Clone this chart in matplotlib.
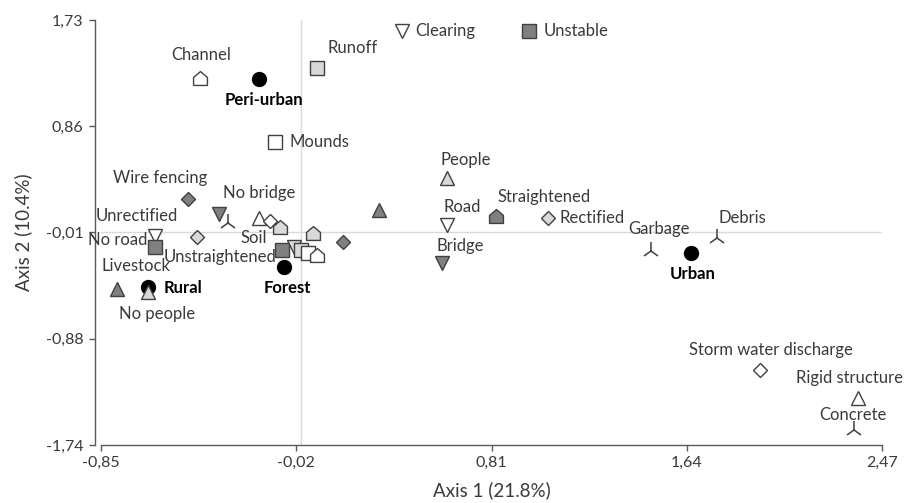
import matplotlib
matplotlib.use("Agg")
import matplotlib.pyplot as plt
from matplotlib.path import Path
import numpy as np

# Ordination scores of sites and attributes on the first two axes
names = [
    "Peri-urban", "Forest", "Rural", "Urban",
    "Channel", "Runoff", "Clearing", "Unstable", "Mounds",
    "People", "Road", "Bridge", "", "Straightened", "Rectified",
    "Garbage", "Debris", "Storm water discharge", "Rigid structure", "Concrete",
    "Wire fencing", "Unrectified", "Soil", "", "No road", "",
    "Livestock", "No people", "No bridge", "", "", "",
    "Unstraightened", "", "", "", "", "",
]
axis1 = [
    -0.18, -0.07, -0.65, 1.66,
    -0.43, 0.07, 0.43, 0.97, -0.11,
    0.62, 0.62, 0.60, 0.33, 0.83, 1.05,
    1.49, 1.77, 1.95, 2.37, 2.35,
    -0.48, -0.35, -0.31, -0.44, -0.62, -0.62,
    -0.78, -0.65, -0.18, -0.13, -0.09, 0.05,
    -0.08, -0.03, 0.00, 0.03, 0.07, 0.18,
]
axis2 = [
    1.25, -0.29, -0.45, -0.17,
    1.26, 1.34, 1.64, 1.64, 0.73,
    0.44, 0.06, -0.25, 0.18, 0.13, 0.11,
    -0.16, -0.05, -1.13, -1.36, -1.62,
    0.27, 0.15, 0.07, -0.04, -0.03, -0.12,
    -0.47, -0.49, 0.11, 0.09, 0.04, -0.01,
    -0.15, -0.12, -0.15, -0.17, -0.19, -0.08,
]
# variable group of each point (shape_fill)
kinds = [
    "site", "site", "site", "site",
    "house_w", "square_l", "down_w", "square_d", "square_w",
    "up_l", "down_w", "down_d", "up_d", "house_d", "diamond_l",
    "tri", "tri", "diamond_w", "up_w", "tri",
    "diamond_d", "down_d", "tri", "diamond_l", "down_w", "square_d",
    "up_d", "up_l", "up_w", "diamond_w", "house_l", "house_l",
    "square_d", "down_l", "square_l", "square_w", "house_w", "diamond_d",
]
bold_labels = {"Peri-urban", "Forest", "Rural", "Urban"}

xticks_lab = ["-0,85", "-0,02", "0,81", "1,64", "2,47"]
yticks_lab = ["-1,74", "-0,88", "-0,01", "0,86", "1,73"]
x_range = (-0.85, 2.47)
y_range = (-1.74, 1.73)

# ---- styling ----
DARK, LIGHT, WHITE, EDGE = "#808080", "#d9d9d9", "#ffffff", "#404040"
house = Path([(-1, -1), (1, -1), (1, 0.15), (0, 1), (-1, 0.15), (-1, -1)],
             [Path.MOVETO, Path.LINETO, Path.LINETO, Path.LINETO, Path.LINETO, Path.CLOSEPOLY])
fills = {"d": DARK, "l": LIGHT, "w": WHITE}
shapes = {"house": (house, 10), "square": ("s", 9.5), "down": ("v", 10),
          "up": ("^", 10), "diamond": ("D", 7.5)}

# label offsets in pixels (dx, dy, horizontal alignment)
label_pos = {
    "Peri-urban": (5, -21, "center"), "Forest": (3, -21, "center"),
    "Rural": (16, -1, "left"), "Urban": (1, -21, "center"),
    "Channel": (1, 23, "center"), "Runoff": (10, 20, "left"),
    "Clearing": (13, 0, "left"), "Unstable": (14, 0, "left"),
    "Mounds": (14, 0, "left"), "People": (19, 18, "center"),
    "Road": (-3, 18, "left"), "Bridge": (-6, 17, "left"),
    "Straightened": (1, 19, "left"), "Rectified": (12, 0, "left"),
    "Garbage": (8, 22, "center"), "Debris": (1, 20, "left"),
    "Storm water discharge": (11, 20, "center"),
    "Rigid structure": (-9, 20, "center"), "Concrete": (-1, 15, "center"),
    "Wire fencing": (-28, 21, "center"), "Unrectified": (-41, -2, "right"),
    "Soil": (12, -15, "left"), "No road": (-8, -4, "right"),
    "Livestock": (18, 23, "center"), "No people": (9, -22, "center"),
    "No bridge": (1, 25, "center"), "Unstraightened": (-6, -7, "right"),
}

plt.rcParams["font.family"] = ["Lato", "DejaVu Sans"]

W, H = 916, 503
fig = plt.figure(figsize=(W / 100, H / 100), dpi=100)
ax = fig.add_axes([101 / W, (H - 445) / H, (882 - 101) / W, (445 - 20) / H])
ax.set_xlim(*x_range)
ax.set_ylim(*y_range)

# light reference lines through the origin
ax.axhline(0, color="#d9d9d9", lw=1, zorder=0)
ax.axvline(0, color="#d9d9d9", lw=1, zorder=0)

for nm, x, y, k in zip(names, axis1, axis2, kinds):
    if k == "site":
        ax.plot(x, y, marker="o", ms=10, color="black", mec="black", ls="none", zorder=3)
    elif k == "tri":
        ax.plot(x, y, marker="2", ms=13, color=EDGE, mew=1.1, ls="none", zorder=4)
    else:
        shp, fl = k.split("_")
        m, ms = shapes[shp]
        ax.plot(x, y, marker=m, ms=ms, mfc=fills[fl], mec=EDGE, mew=1,
                ls="none", zorder=4)
    if nm:
        dx, dy, ha = label_pos[nm]
        bold = nm in bold_labels
        ax.annotate(nm, (x, y), xytext=(dx, dy), textcoords="offset pixels",
                    ha=ha, va="center", fontsize=12,
                    fontweight="bold" if bold else "normal",
                    color="black" if bold else "#3a3a3a", zorder=5)

# axes: left and bottom only, Excel-like
for s in ("top", "right"):
    ax.spines[s].set_visible(False)
for s in ("left", "bottom"):
    ax.spines[s].set_color("#595959")
    ax.spines[s].set_linewidth(1)
ax.spines["left"].set_position(("outward", 4.5))

ax.set_xticks(np.linspace(*x_range, len(xticks_lab)))
ax.set_xticklabels(xticks_lab)
ax.set_yticks(np.linspace(*y_range, len(yticks_lab)))
ax.set_yticklabels(yticks_lab)
ax.tick_params(direction="out", length=4, width=1, color="#595959",
               labelcolor="#3a3a3a", labelsize=11.5, pad=4)

ax.set_xlabel("Axis 1 (21.8%)", fontsize=13.5, color="#3a3a3a", labelpad=8)
ax.set_ylabel("Axis 2 (10.4%)", fontsize=13.5, color="#3a3a3a", labelpad=10)

fig.savefig("out.png", dpi=100)
